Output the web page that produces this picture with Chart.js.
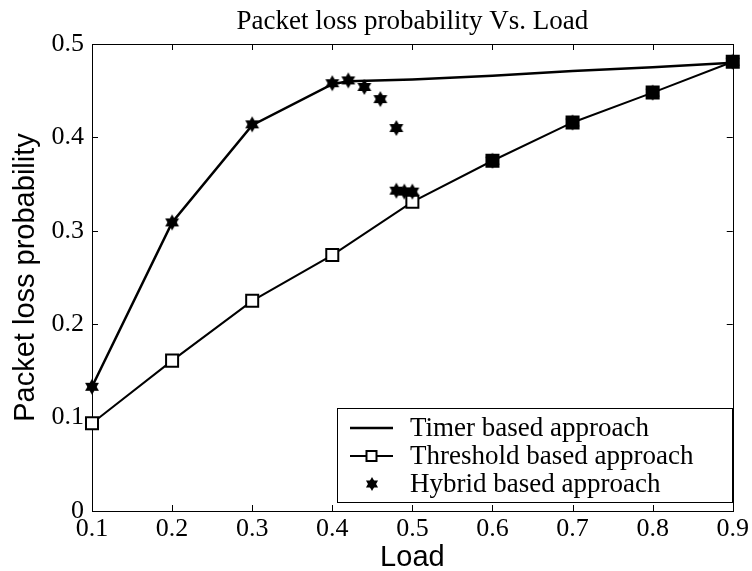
<!DOCTYPE html>
<html>
<head>
<meta charset="utf-8">
<script src="https://cdn.jsdelivr.net/npm/chart.js@4/dist/chart.umd.min.js"></script>
<style>
  html, body { margin: 0; padding: 0; background: #ffffff; }
  canvas { display: block; }
</style>
</head>
<body>
<canvas id="c" width="752" height="571"></canvas>
<script>
// ---- data ----
const chartTitle = 'Packet loss probability Vs. Load';
const xTitle = 'Load';
const yTitle = 'Packet loss probability';
const seriesNames = ['Timer based approach', 'Threshold based approach', 'Hybrid based approach'];

const xTickValues = [0.1, 0.2, 0.3, 0.4, 0.5, 0.6, 0.7, 0.8, 0.9];
const yTickValues = [0, 0.1, 0.2, 0.3, 0.4, 0.5];

const timerLoad = [0.1, 0.2, 0.3, 0.4, 0.42, 0.5, 0.6, 0.7, 0.8, 0.9];
const timerLoss = [0.133, 0.309, 0.413, 0.457, 0.460, 0.462, 0.466, 0.471, 0.475, 0.480];

const thresholdLoad = [0.1, 0.2, 0.3, 0.4, 0.5, 0.6, 0.7, 0.8, 0.9];
const thresholdLoss = [0.094, 0.161, 0.225, 0.274, 0.331, 0.375, 0.416, 0.448, 0.481];

const hybridLoad = [0.1, 0.2, 0.3, 0.4, 0.42, 0.44, 0.46, 0.48, 0.48, 0.49, 0.5, 0.6, 0.7, 0.8, 0.9];
const hybridLoss = [0.133, 0.309, 0.414, 0.458, 0.461, 0.454, 0.441, 0.410, 0.343, 0.342, 0.342, 0.375, 0.416, 0.448, 0.481];

const toPoints = (xs, ys) => xs.map((x, i) => ({ x: x, y: ys[i] }));

// squares that have a hybrid star printed on top of them look solid black
const thresholdFill = thresholdLoad.map((x, i) =>
  hybridLoad.some((hx, j) => hx === x && Math.abs(hybridLoss[j] - thresholdLoss[i]) < 0.005) ? '#000' : '#fff');

// ---- six-pointed star marker ----
function makeStar(R) {
  const s = Math.ceil(R * 2 + 2);
  const c = document.createElement('canvas');
  c.width = s; c.height = s;
  const g = c.getContext('2d');
  const cx = s / 2, cy = s / 2;
  g.fillStyle = '#000';
  [-90, 90].forEach(start => {
    g.beginPath();
    for (let k = 0; k < 3; k++) {
      const a = (start + k * 120) * Math.PI / 180;
      const px = cx + R * Math.cos(a), py = cy + R * Math.sin(a);
      if (k === 0) g.moveTo(px, py); else g.lineTo(px, py);
    }
    g.closePath();
    g.fill();
  });
  return c;
}
const starImg = makeStar(8);
const starSmall = makeStar(7);

const serif = 'Liberation Serif';
const sans = 'Liberation Sans';

// ---- frame with inward ticks (MATLAB style) ----
const framePlugin = {
  id: 'frame',
  beforeDatasetsDraw(chart) {
    const ca = chart.chartArea, ctx = chart.ctx;
    const xs = chart.scales.x, ys = chart.scales.y;
    ctx.save();
    ctx.strokeStyle = '#000';
    ctx.lineWidth = 1;
    ctx.strokeRect(Math.round(ca.left) + 0.5, Math.round(ca.top) + 0.5,
                   Math.round(ca.right - ca.left), Math.round(ca.bottom - ca.top));
    const L = 6;
    ctx.beginPath();
    xTickValues.forEach(v => {
      if (v === xs.min || v === xs.max) return;
      const px = Math.round(xs.getPixelForValue(v)) + 0.5;
      ctx.moveTo(px, ca.bottom); ctx.lineTo(px, ca.bottom - L);
      ctx.moveTo(px, ca.top); ctx.lineTo(px, ca.top + L);
    });
    yTickValues.forEach(v => {
      if (v === ys.min || v === ys.max) return;
      const py = Math.round(ys.getPixelForValue(v)) + 0.5;
      ctx.moveTo(ca.left, py); ctx.lineTo(ca.left + L, py);
      ctx.moveTo(ca.right, py); ctx.lineTo(ca.right - L, py);
    });
    ctx.stroke();
    ctx.restore();
  }
};

// ---- boxed legend inside the lower right of the plot ----
const boxLegendPlugin = {
  id: 'boxLegend',
  afterDraw(chart) {
    const ca = chart.chartArea, ctx = chart.ctx;
    const right = Math.round(ca.right) - 1;
    const bottom = Math.round(ca.bottom) - 9;
    const w = 395, h = 94;
    const left = right - w, top = bottom - h;
    ctx.save();
    ctx.fillStyle = '#fff';
    ctx.fillRect(left, top, w, h);
    ctx.strokeStyle = '#000';
    ctx.lineWidth = 1;
    ctx.strokeRect(left + 0.5, top + 0.5, w, h);
    ctx.font = '27px "' + serif + '"';
    ctx.textBaseline = 'middle';
    ctx.textAlign = 'left';
    chart.data.datasets.forEach((ds, i) => {
      const y = top + 20 + i * 28;
      const x1 = left + 13, x2 = left + 56, xc = (x1 + x2) / 2;
      if (ds.showLine !== false) {
        ctx.strokeStyle = '#000';
        ctx.lineWidth = ds.borderWidth || 2;
        ctx.beginPath(); ctx.moveTo(x1, y); ctx.lineTo(x2, y); ctx.stroke();
      }
      if (ds.pointStyle === 'rect' && ds.pointRadius > 0) {
        ctx.fillStyle = '#fff';
        ctx.lineWidth = 2;
        ctx.fillRect(xc - 5, y - 5, 10, 10);
        ctx.strokeRect(xc - 5, y - 5, 10, 10);
      } else if (ds.pointStyle instanceof HTMLCanvasElement) {
        ctx.drawImage(starSmall, Math.round(xc - starSmall.width / 2), Math.round(y - starSmall.height / 2));
      }
      ctx.fillStyle = '#000';
      ctx.fillText(ds.label, left + 73, y + 1);
    });
    ctx.restore();
  }
};

new Chart(document.getElementById('c'), {
  type: 'scatter',
  data: {
    datasets: [
      {
        label: seriesNames[0],
        data: toPoints(timerLoad, timerLoss),
        showLine: true,
        borderColor: '#000',
        borderWidth: 2.5,
        pointRadius: 0,
        pointStyle: 'line',
        clip: false,
        order: 2
      },
      {
        label: seriesNames[1],
        data: toPoints(thresholdLoad, thresholdLoss),
        showLine: true,
        borderColor: '#000',
        borderWidth: 2,
        pointStyle: 'rect',
        pointRadius: 8.5,
        pointBorderWidth: 2,
        pointBorderColor: '#000',
        pointBackgroundColor: thresholdFill,
        clip: false,
        order: 1
      },
      {
        label: seriesNames[2],
        data: toPoints(hybridLoad, hybridLoss),
        showLine: false,
        pointStyle: starImg,
        pointRadius: 8,
        clip: false,
        order: 0
      }
    ]
  },
  options: {
    responsive: false,
    animation: false,
    devicePixelRatio: 1,
    layout: { padding: { left: 0, right: 19, top: 0, bottom: 0 } },
    plugins: {
      legend: { display: false },
      tooltip: { enabled: false },
      title: {
        display: true,
        fullSize: false,
        text: chartTitle,
        color: '#000',
        font: { family: serif, size: 27, weight: 'normal', lineHeight: 1.2 },
        padding: { top: 6, bottom: 5.6 }
      }
    },
    scales: {
      x: {
        type: 'linear',
        min: 0.1,
        max: 0.9,
        afterBuildTicks: axis => { axis.ticks = xTickValues.map(v => ({ value: v })); },
        afterFit: axis => { axis.height = 60; },
        grid: { display: false, drawTicks: false },
        border: { display: false },
        ticks: {
          color: '#000',
          padding: 3,
          maxRotation: 0,
          autoSkip: false,
          font: { family: serif, size: 26 },
          callback: v => Number(v).toFixed(1)
        },
        title: {
          display: true,
          text: xTitle,
          color: '#000',
          font: { family: sans, size: 29, lineHeight: 1 },
          padding: { top: 0, bottom: -1 }
        }
      },
      y: {
        type: 'linear',
        min: 0,
        max: 0.5,
        afterBuildTicks: axis => { axis.ticks = yTickValues.map(v => ({ value: v })); },
        afterFit: axis => { axis.width = 92; },
        grid: { display: false, drawTicks: false },
        border: { display: false },
        ticks: {
          color: '#000',
          padding: 8,
          autoSkip: false,
          font: { family: serif, size: 26 },
          callback: v => (v === 0 ? '0' : Number(v).toFixed(1))
        },
        title: {
          display: true,
          text: yTitle,
          color: '#000',
          font: { family: sans, size: 29, lineHeight: 1 },
          padding: { top: 11, bottom: 0 }
        }
      }
    }
  },
  plugins: [framePlugin, boxLegendPlugin]
});
</script>
</body>
</html>
